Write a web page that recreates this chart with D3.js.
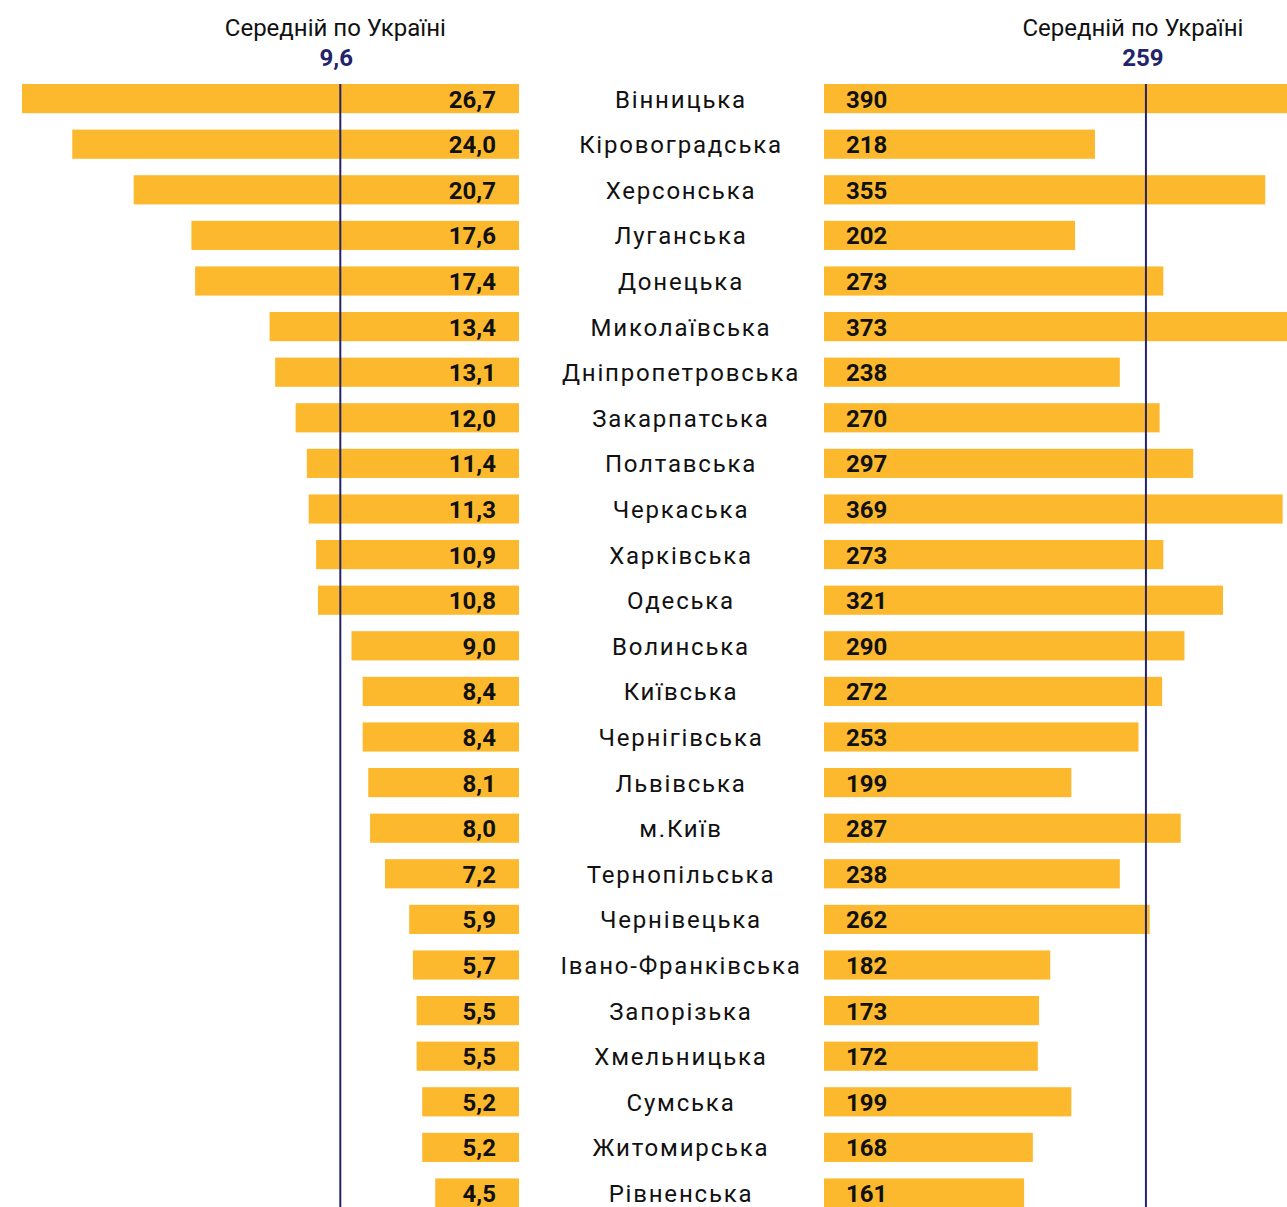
<!DOCTYPE html>
<html>
<head>
<meta charset="utf-8">
<script src="https://cdn.jsdelivr.net/npm/d3@7"></script>
<style>
  body { margin: 0; background: #fff; }
  svg { display: block; font-family: Roboto, sans-serif; }
</style>
</head>
<body>
<div class="chart"></div>
<script>
// regions, top to bottom
var regions = ['Вінницька', 'Кіровоградська', 'Херсонська', 'Луганська', 'Донецька',
  'Миколаївська', 'Дніпропетровська', 'Закарпатська', 'Полтавська', 'Черкаська',
  'Харківська', 'Одеська', 'Волинська', 'Київська', 'Чернігівська', 'Львівська',
  'м.Київ', 'Тернопільська', 'Чернівецька', 'Івано-Франківська', 'Запорізька',
  'Хмельницька', 'Сумська', 'Житомирська', 'Рівненська'];

// left panel values
var leftValues = [26.7, 24.0, 20.7, 17.6, 17.4, 13.4, 13.1, 12.0, 11.4, 11.3,
  10.9, 10.8, 9.0, 8.4, 8.4, 8.1, 8.0, 7.2, 5.9, 5.7, 5.5, 5.5, 5.2, 5.2, 4.5];

// right panel values
var rightValues = [390, 218, 355, 202, 273, 373, 238, 270, 297, 369,
  273, 321, 290, 272, 253, 199, 287, 238, 262, 182, 173, 172, 199, 168, 161];

var leftAvg = 9.6;
var rightAvg = 259;
var avgTitle = 'Середній по Україні';

var width = 1287, height = 1207;
var barColor = '#FDB92E', lineColor = '#23236b';

var svg = d3.select('.chart').append('svg').attr('width', width).attr('height', height);

// scales
var y = d3.scaleBand().domain(regions).range([84, 84 + 45.6 * (25 - 0.36)]).paddingInner(0.36).paddingOuter(0);
var xl = d3.scaleLinear().domain([0, 26.7]).range([519, 22]);
var xr = d3.scaleLinear().domain([0, 390]).range([824, 824 + 390 * 1.243]);

var fmt = function(v) { return d3.format('.1f')(v).replace('.', ','); };

var rows = regions.map(function(d, i) { return { name: d, l: leftValues[i], r: rightValues[i] }; });

// left bars
svg.selectAll('.lbar').data(rows).enter().append('rect').attr('class', 'lbar')
  .attr('x', function(d) { return xl(d.l); })
  .attr('y', function(d) { return y(d.name); })
  .attr('width', function(d) { return xl(0) - xl(d.l); })
  .attr('height', y.bandwidth())
  .attr('fill', barColor);

// right bars
svg.selectAll('.rbar').data(rows).enter().append('rect').attr('class', 'rbar')
  .attr('x', xr(0))
  .attr('y', function(d) { return y(d.name); })
  .attr('width', function(d) { return xr(d.r) - xr(0); })
  .attr('height', y.bandwidth())
  .attr('fill', barColor);

// average lines
svg.append('line').attr('x1', xl(leftAvg)).attr('x2', xl(leftAvg))
  .attr('y1', 84).attr('y2', height).attr('stroke', lineColor).attr('stroke-width', 2);
svg.append('line').attr('x1', xr(rightAvg)).attr('x2', xr(rightAvg))
  .attr('y1', 84).attr('y2', height).attr('stroke', lineColor).attr('stroke-width', 2);

// value labels
var cy = function(d) { return y(d.name) + y.bandwidth() / 2 + 9; };
svg.selectAll('.lval').data(rows).enter().append('text')
  .attr('x', 496).attr('y', cy).attr('text-anchor', 'end')
  .attr('font-size', 24).attr('font-weight', 'bold').attr('fill', '#111')
  .text(function(d) { return fmt(d.l); });
svg.selectAll('.rval').data(rows).enter().append('text')
  .attr('x', 846).attr('y', cy)
  .attr('font-size', 24).attr('font-weight', 'bold').attr('fill', '#111')
  .text(function(d) { return d.r; });

// region names
svg.selectAll('.name').data(rows).enter().append('text')
  .attr('x', 681).attr('y', cy).attr('text-anchor', 'middle')
  .attr('font-size', 24).attr('letter-spacing', '1.8px').attr('fill', '#111')
  .text(function(d) { return d.name; });

// headers
[[xl(leftAvg), fmt(leftAvg), -5, -4], [xr(rightAvg), String(rightAvg), -13, -3]].forEach(function(h) {
  svg.append('text').attr('x', h[0] + h[2]).attr('y', 36).attr('text-anchor', 'middle')
    .attr('font-size', 24).attr('fill', '#111').text(avgTitle);
  svg.append('text').attr('x', h[0] + h[3]).attr('y', 66).attr('text-anchor', 'middle')
    .attr('font-size', 24).attr('font-weight', 'bold').attr('fill', lineColor).text(h[1]);
});
</script>
</body>
</html>
